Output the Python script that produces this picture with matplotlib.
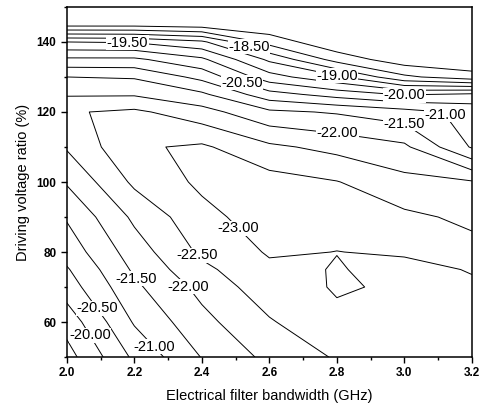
import numpy as np
import matplotlib
matplotlib.use("Agg")
import matplotlib.pyplot as plt

bandwidth = [2.0, 2.2, 2.4, 2.6, 2.8, 3.0, 3.2]
ratio = [50, 60, 70, 75, 80, 90, 100, 110, 120, 125, 130, 135, 140, 145, 150]

# one list per bandwidth column, values follow ratio from 50 to 150
bw_2_0 = [-19.3, -19.7, -20.25, -20.45, -20.7, -21.05, -21.55, -22.05, -22.45, -21.95, -21.5, -20.6, -19.5, -17.3, -17.2]
bw_2_2 = [-20.6, -21.05, -21.4, -21.58, -21.75, -22.1, -22.6, -22.93, -22.6, -21.95, -21.45, -20.6, -19.45, -17.3, -17.2]
bw_2_4 = [-21.52, -21.85, -22.15, -22.38, -22.6, -22.85, -23.1, -23.08, -22.2, -21.6, -20.85, -20.1, -19.1, -17.2, -17.1]
bw_2_6 = [-22.13, -22.45, -22.8, -22.9, -23.05, -23.25, -23.2, -22.6, -21.6, -20.7, -19.7, -18.9, -17.8, -17.1, -17.0]
bw_2_8 = [-22.55, -22.92, -23.035, -23.02, -22.995, -23.15, -23.02, -22.35, -21.45, -20.3, -19.1, -17.8, -17.1, -17.0, -17.0]
bw_3_0 = [-22.85, -22.9, -22.95, -22.9, -23.04, -23.1, -22.65, -22.1, -21.2, -19.95, -18.1, -17.2, -17.0, -17.0, -17.0]
bw_3_2 = [-22.85, -22.9, -22.95, -23.02, -23.15, -22.9, -22.55, -20.95, -20.85, -20.1, -17.7, -17.1, -17.0, -17.0, -17.0]

levels = np.arange(-23.0, -17.25, 0.5)

# where the level labels sit
label_spots = [(2.18, 140), (2.54, 138.5), (2.52, 128.5), (2.80, 130.5),
               (3.0, 124.8), (3.13, 120), (3.0, 117), (2.8, 113),
               (2.53, 89), (2.385, 79), (2.355, 69.7), (2.2, 72),
               (2.09, 64), (2.27, 54), (2.06, 55.7)]

plt.rcParams['font.family'] = ['Liberation Sans', 'DejaVu Sans']

Z = np.array([bw_2_0, bw_2_2, bw_2_4, bw_2_6, bw_2_8, bw_3_0, bw_3_2]).T
X, Y = np.meshgrid(bandwidth, ratio)

fig = plt.figure(figsize=(4.84, 4.09), dpi=100)
ax = fig.add_axes([0.138, 0.127, 0.837, 0.856])

cs = ax.contour(X, Y, Z, levels=levels, colors='black', linewidths=0.7,
                linestyles='solid')
labels = ax.clabel(cs, fmt='%.2f', inline=False, fontsize=10.5, manual=label_spots)
for t in labels:
    t.set_rotation(0)
    t.set_bbox(dict(facecolor='white', edgecolor='none', pad=0.3))

ax.set_xlim(2.0, 3.2)
ax.set_ylim(50, 150)
ax.set_xticks([2.0, 2.2, 2.4, 2.6, 2.8, 3.0, 3.2])
ax.set_xticks(np.arange(2.1, 3.2, 0.2), minor=True)
ax.set_yticks([60, 80, 100, 120, 140])
ax.set_yticks([50, 70, 90, 110, 130, 150], minor=True)
ax.tick_params(which='major', direction='out', length=4, width=1, labelsize=8.5)
ax.tick_params(which='minor', direction='out', length=2.5, width=1)
for lab in ax.get_xticklabels() + ax.get_yticklabels():
    lab.set_fontweight('bold')
for s in ax.spines.values():
    s.set_linewidth(1.1)

ax.set_xlabel("Electrical filter bandwidth (GHz)", fontsize=10.5, labelpad=7)
ax.set_ylabel("Driving voltage ratio (%)", fontsize=10.5, labelpad=5)

plt.savefig('out.png', dpi=100)
